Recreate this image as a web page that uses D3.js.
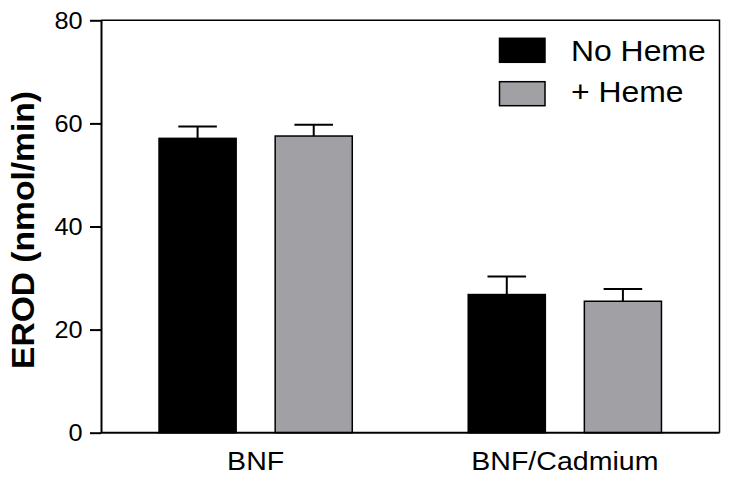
<!DOCTYPE html>
<html>
<head>
<meta charset="utf-8">
<script src="https://cdn.jsdelivr.net/npm/d3@7"></script>
<style>
  body { margin: 0; background: #fff; }
  text { font-family: "Liberation Sans", Arial, sans-serif; fill: #000; }
</style>
</head>
<body>
<div id="wrapper"></div>
<script>
const groups = ["BNF", "BNF/Cadmium"]
const series = ["No Heme", "+ Heme"]
const means = [[57.1, 57.55], [26.8, 25.5]]
const errors = [[2.3, 2.2], [3.5, 2.4]]
const yTicks = [0, 20, 40, 60, 80]
const colors = ["#000000", "#a1a1a5"]

const dimensions = {
  width: 729,
  height: 480,
  margin: { top: 20.3, right: 9.5, bottom: 47.3, left: 101 },
}
dimensions.boundedWidth = dimensions.width - dimensions.margin.left - dimensions.margin.right
dimensions.boundedHeight = dimensions.height - dimensions.margin.top - dimensions.margin.bottom

const wrapper = d3.select("#wrapper")
  .append("svg")
    .attr("width", dimensions.width)
    .attr("height", dimensions.height)

const bounds = wrapper.append("g")
  .attr("transform", `translate(${dimensions.margin.left},${dimensions.margin.top})`)

const yScale = d3.scaleLinear()
  .domain([0, 80])
  .range([dimensions.boundedHeight, 0])

const xScale = d3.scaleBand()
  .domain(groups)
  .range([0, dimensions.boundedWidth])
  .paddingInner(0.375)
  .paddingOuter(0.1877)

const subScale = d3.scaleBand()
  .domain(series)
  .range([0, xScale.bandwidth()])
  .paddingInner(0.336)
  .paddingOuter(0)

// stretch text horizontally a bit, the original looks widened
const sx = 1.12

// bars + error bars
const groupG = bounds.selectAll(".group")
  .data(groups)
  .join("g")
    .attr("class", "group")
    .attr("transform", d => `translate(${xScale(d)},0)`)

groupG.each(function(g, gi) {
  const sel = d3.select(this)
  series.forEach((s, si) => {
    const v = means[gi][si]
    const e = errors[gi][si]
    const x0 = subScale(s)
    const cx = x0 + subScale.bandwidth() / 2
    const capW = subScale.bandwidth() / 2
    sel.append("line")
      .attr("x1", cx).attr("x2", cx)
      .attr("y1", yScale(v)).attr("y2", yScale(v + e))
      .attr("stroke", "#000").attr("stroke-width", 2)
    sel.append("line")
      .attr("x1", cx - capW / 2).attr("x2", cx + capW / 2)
      .attr("y1", yScale(v + e)).attr("y2", yScale(v + e))
      .attr("stroke", "#000").attr("stroke-width", 2)
    sel.append("rect")
      .attr("x", x0)
      .attr("y", yScale(v))
      .attr("width", subScale.bandwidth())
      .attr("height", yScale(0) - yScale(v))
      .attr("fill", colors[si])
      .attr("stroke", "#000")
      .attr("stroke-width", 1.5)
  })
})

// frame (top + right)
bounds.append("path")
  .attr("d", `M0,0H${dimensions.boundedWidth}V${dimensions.boundedHeight}`)
  .attr("fill", "none")
  .attr("stroke", "#000")
  .attr("stroke-width", 1.5)

// y axis (labels drawn separately so they can be sized)
const yAxisGenerator = d3.axisLeft(yScale)
  .tickValues(yTicks)
  .tickSize(11)
  .tickFormat("")
  .tickSizeOuter(0)

const yAxis = bounds.append("g")
  .call(yAxisGenerator)
yAxis.select(".domain").attr("stroke", "#000").attr("stroke-width", 2)
yAxis.selectAll(".tick line").attr("stroke", "#000").attr("stroke-width", 2)

bounds.selectAll(".ylabel")
  .data(yTicks)
  .join("text")
    .attr("class", "ylabel")
    .attr("transform", d => `translate(-18.5,${yScale(d) + 8.2}) scale(1.1,1)`)
    .attr("text-anchor", "end")
    .style("font-size", "23px")
    .text(d => d)

// x axis, no ticks
const xAxis = bounds.append("g")
  .attr("transform", `translate(0,${dimensions.boundedHeight})`)
xAxis.append("line")
  .attr("x1", 0).attr("x2", dimensions.boundedWidth)
  .attr("stroke", "#000").attr("stroke-width", 2)
xAxis.selectAll(".xlabel")
  .data(groups)
  .join("text")
    .attr("class", "xlabel")
    .attr("transform", d => `translate(${xScale(d) + xScale.bandwidth() / 2},37.5) scale(${sx},1)`)
    .attr("text-anchor", "middle")
    .style("font-size", "25.5px")
    .text(d => d)

// y title
wrapper.append("text")
  .attr("transform", "translate(33.5,230) rotate(-90) scale(1.05,1)")
  .attr("text-anchor", "middle")
  .style("font-size", "32px")
  .style("font-weight", "bold")
  .text("EROD (nmol/min)")

// legend
const legend = wrapper.append("g")
const legendY = [38.3, 81.7]
const legendBase = [61, 101.7]
series.forEach((s, i) => {
  legend.append("rect")
    .attr("x", 499.5).attr("y", legendY[i])
    .attr("width", 45.5).attr("height", 24)
    .attr("fill", colors[i])
    .attr("stroke", "#000").attr("stroke-width", 1.5)
  legend.append("text")
    .attr("transform", `translate(571,${legendBase[i]}) scale(1.1,1)`)
    .style("font-size", "29px")
    .text(s)
})
</script>
</body>
</html>
